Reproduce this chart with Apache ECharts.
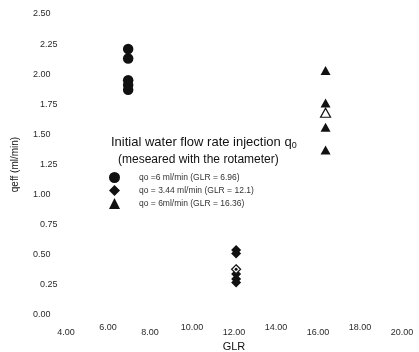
<!DOCTYPE html>
<html>
<head>
<meta charset="utf-8">
<script src="https://cdn.jsdelivr.net/npm/echarts@6/dist/echarts.min.js"></script>
<style>
  html, body { margin: 0; padding: 0; background: #fff; }
  #chart { width: 419px; height: 352px; }
</style>
</head>
<body>
<div id="chart"></div>
<script>
// Effective flow rate qeff versus gas-liquid ratio for three injection rates
var seriesNames = [
  'qo =6 ml/min (GLR = 6.96)',
  'qo = 3.44 ml/min (GLR = 12.1)',
  'qo = 6ml/min (GLR = 16.36)'
];
var glrValues = [6.96, 12.1, 16.36];

// individual measurements (ml/min)
var qeffLow = [2.21, 2.13, 1.95, 1.91, 1.87];
var qeffMid = [0.54, 0.51, 0.34, 0.30, 0.27];
var qeffHigh = [2.03, 1.76, 1.56, 1.37];

// mean values shown with open markers
var meanMid = 0.38;
var meanHigh = 1.68;

var xTicks = { min: 4, max: 20, interval: 2 };
var yTicks = { min: 0, max: 2.5, interval: 0.25 };

var FONT = '"Liberation Sans", Arial, sans-serif';
var INK = '#111';
var LABEL = '#2a2a2a';

function pairs(x, ys) {
  return ys.map(function (y) { return [x, y]; });
}

var chart = echarts.init(document.getElementById('chart'), null, { renderer: 'canvas' });

chart.setOption({
  backgroundColor: '#fff',
  animation: false,
  textStyle: { fontFamily: FONT },
  title: [
    {
      text: '{m|Initial water flow rate injection q}{s|0}',
      left: 106, top: 129,
      textStyle: {
        rich: {
          m: { fontSize: 13, fontWeight: 'normal', fontFamily: FONT, color: INK },
          s: { fontSize: 9, fontWeight: 'normal', fontFamily: FONT, color: INK, padding: [7, 0, 0, 0] }
        }
      }
    },
    {
      text: '(meseared with the rotameter)',
      left: 113, top: 149,
      textStyle: { fontSize: 12, fontWeight: 'normal', fontFamily: FONT, color: INK }
    }
  ],
  legend: {
    data: [
      { name: seriesNames[0], icon: 'circle' },
      { name: seriesNames[1], icon: 'diamond' },
      { name: seriesNames[2], icon: 'triangle' }
    ],
    orient: 'vertical',
    left: 109, top: 172,
    itemWidth: 11, itemHeight: 11, itemGap: 2,
    padding: 0,
    formatter: function (n) { return '{t|' + n + '}'; },
    textStyle: {
      rich: { t: { fontSize: 8.5, fontFamily: FONT, color: '#333', padding: [0, 0, 0, 14] } }
    }
  },
  grid: { left: 66, right: 17, top: 14, bottom: 37, outerBoundsMode: 'none', containLabel: false },
  xAxis: {
    type: 'value',
    min: xTicks.min, max: xTicks.max, interval: xTicks.interval,
    name: 'GLR', nameLocation: 'middle', nameGap: 23,
    nameTextStyle: { fontSize: 11, color: INK, fontFamily: FONT },
    axisLine: { show: false }, axisTick: { show: false }, splitLine: { show: false },
    axisLabel: {
      margin: 8,
      formatter: function (v) {
        var i = Math.round((v - xTicks.min) / xTicks.interval);
        return (i % 2 === 0 ? '{lo|' : '{hi|') + v.toFixed(2) + '}';
      },
      rich: {
        lo: { fontSize: 9, color: LABEL, fontFamily: FONT, padding: [5, 0, 0, 0] },
        hi: { fontSize: 9, color: LABEL, fontFamily: FONT, padding: [0, 0, 0, 0] }
      }
    }
  },
  yAxis: {
    type: 'value',
    min: yTicks.min, max: yTicks.max, interval: yTicks.interval,
    name: 'qeff (ml/min)', nameLocation: 'middle', nameGap: 46, nameRotate: 90,
    nameTextStyle: { fontSize: 10, color: INK, fontFamily: FONT },
    axisLine: { show: false }, axisTick: { show: false }, splitLine: { show: false },
    axisLabel: {
      margin: 33, align: 'left',
      formatter: function (v) {
        var i = Math.round((v - yTicks.min) / yTicks.interval);
        return (i % 2 === 0 ? '{l|' : '{r|') + v.toFixed(2) + '}';
      },
      rich: {
        l: { fontSize: 9, color: LABEL, fontFamily: FONT },
        r: { fontSize: 9, color: LABEL, fontFamily: FONT, padding: [0, 0, 0, 7] }
      }
    }
  },
  series: [
    {
      name: seriesNames[0], type: 'scatter', symbol: 'circle', symbolSize: 10.5,
      itemStyle: { color: INK, opacity: 1 },
      data: pairs(glrValues[0], qeffLow)
    },
    {
      name: seriesNames[1], type: 'scatter', symbol: 'diamond', symbolSize: 10,
      itemStyle: { color: INK, opacity: 1 },
      data: pairs(glrValues[1], qeffMid)
    },
    {
      name: seriesNames[2], type: 'scatter', symbol: 'triangle', symbolSize: [10, 9],
      itemStyle: { color: INK, opacity: 1 },
      data: pairs(glrValues[2], qeffHigh)
    },
    {
      name: 'mean-mid', type: 'scatter', symbol: 'diamond', symbolSize: 9, z: 5,
      itemStyle: { color: '#fff', borderColor: INK, borderWidth: 1.2, opacity: 1 },
      data: [[glrValues[1], meanMid]]
    },
    {
      name: 'mean-mid-dot', type: 'scatter', symbol: 'circle', symbolSize: 3, z: 6,
      itemStyle: { color: INK, opacity: 1 },
      data: [[glrValues[1], meanMid]]
    },
    {
      name: 'mean-high', type: 'scatter', symbol: 'triangle', symbolSize: [10, 9], z: 5,
      itemStyle: { color: '#fff', borderColor: INK, borderWidth: 1.2, opacity: 1 },
      data: [[glrValues[2], meanHigh]]
    }
  ]
});
</script>
</body>
</html>
